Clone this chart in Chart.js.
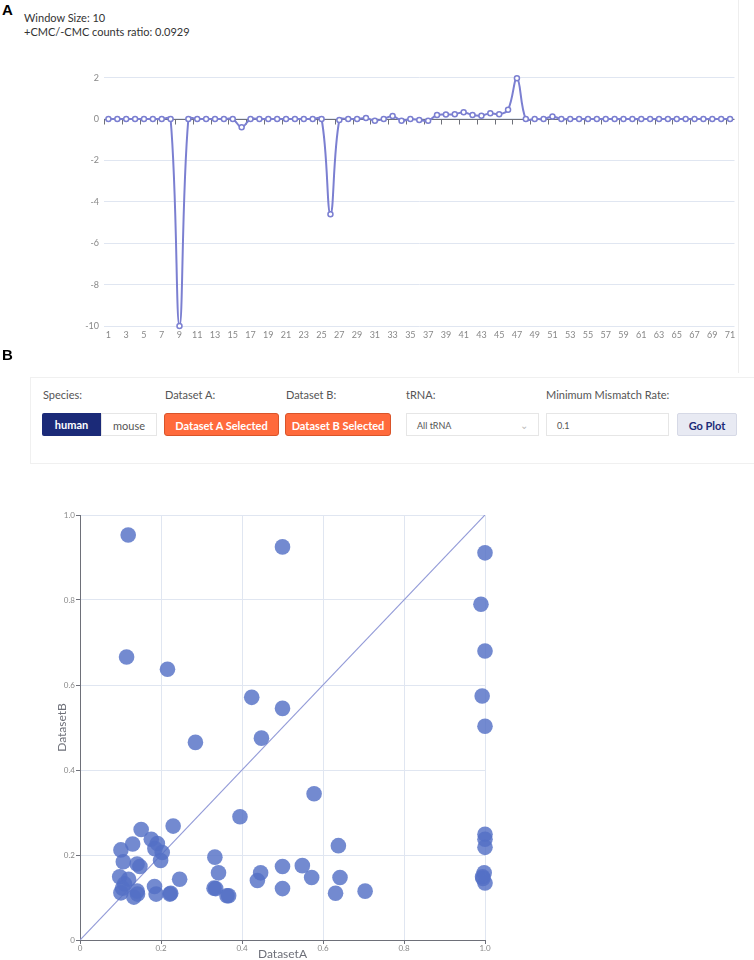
<!DOCTYPE html>
<html>
<head>
<meta charset="utf-8">
<script src="https://cdn.jsdelivr.net/npm/chart.js@4.4.1/dist/chart.umd.min.js"></script>
<style>
  body { margin: 0; width: 754px; height: 960px; background: #fff; font-family: Lato, "Open Sans", sans-serif; position: relative; overflow: hidden; }
  .abs { position: absolute; }
  .letter { font-family: "Liberation Sans", Arial, sans-serif; font-weight: bold; font-size: 15px; color: #000; }
  .info { left: 24px; font-size: 11px; color: #333; }
  .lbl { top: 388px; font-size: 11px; color: #555; }
  .btn { top: 413px; height: 23px; line-height: 23px; box-sizing: border-box; text-align: center; font-size: 11px; font-weight: bold; }
  .box { top: 413px; height: 23px; line-height: 23px; box-sizing: border-box; border: 1px solid #e6e6e6; font-size: 9px; color: #555; padding-left: 10px; background: #fff; }
</style>
</head>
<body>
<div class="abs letter" style="left:2px;top:1px;">A</div>
<div class="abs info" style="top:11px;">Window Size: 10</div>
<div class="abs info" style="top:25px;">+CMC/-CMC counts ratio: 0.0929</div>
<div class="abs" style="left:738px;top:0;height:373px;border-right:1px solid #eee;"></div>
<canvas id="lineChart" class="abs" style="left:0;top:60px;"></canvas>

<div class="abs letter" style="left:2px;top:346px;">B</div>
<div class="abs" style="left:30px;top:377px;width:730px;height:85px;border:1px solid #f0f0f0;"></div>
<div class="abs lbl" style="left:43px;">Species:</div>
<div class="abs lbl" style="left:165px;">Dataset A:</div>
<div class="abs lbl" style="left:286px;">Dataset B:</div>
<div class="abs lbl" style="left:406px;">tRNA:</div>
<div class="abs lbl" style="left:546px;">Minimum Mismatch Rate:</div>
<div class="abs btn" style="left:42px;width:59px;background:#1b2a78;color:#fff;border-radius:2px 0 0 2px;">human</div>
<div class="abs btn" style="left:101px;width:56px;background:#fff;color:#555;border:1px solid #e6e6e6;font-weight:normal;">mouse</div>
<div class="abs btn" style="left:164px;width:115px;background:#ff6a3c;color:#fff;border:1px solid #d9542a;border-radius:3px;">Dataset A Selected</div>
<div class="abs btn" style="left:285px;width:106px;background:#ff6a3c;color:#fff;border:1px solid #d9542a;border-radius:3px;">Dataset B Selected</div>
<div class="abs box" style="left:406px;width:133px;">All tRNA<span style="position:absolute;right:10px;color:#bbb;font-size:10px;">&#8964;</span></div>
<div class="abs box" style="left:546px;width:123px;">0.1</div>
<div class="abs btn" style="left:677px;width:60px;background:#e8eaf3;color:#1b2a78;border:1px solid #d6d9e6;border-radius:2px;">Go Plot</div>

<canvas id="scatterChart" class="abs" style="left:0;top:500px;"></canvas>

<script>
// line chart data (position 1..71)
const positions = [];
for (let i = 1; i <= 71; i++) positions.push(String(i));
const logRatio = [
  0, 0, 0, 0, 0, 0, 0, 0, -10, 0,
  0, 0, 0, 0, 0, -0.4, 0, 0, 0, 0,
  0, 0, 0, 0, 0, -4.6, -0.05, 0, 0, 0.05,
  -0.08, 0, 0.15, -0.08, 0, -0.05, -0.08, 0.19, 0.22, 0.23,
  0.33, 0.19, 0.16, 0.28, 0.23, 0.45, 1.97, 0, 0, 0,
  0.12, 0, 0, 0, 0, 0, 0, 0, 0, 0,
  0, 0, 0, 0, 0, 0, 0, 0, 0, 0,
  0
];
const yTicksLine = [-10, -8, -6, -4, -2, 0, 2];

// scatter data
const datasetA = [
  0.119, 0.500, 0.115, 0.216, 0.424, 0.500, 1.000, 0.990, 1.000, 0.993,
  1.000, 0.285, 0.448, 0.578, 0.395, 0.151, 0.230, 0.130, 0.101, 0.176,
  0.191, 0.185, 0.203, 0.199, 0.107, 0.141, 0.148, 0.098, 0.120, 0.110,
  0.105, 0.101, 0.133, 0.141, 0.142, 0.184, 0.188, 0.222, 0.246, 0.333,
  0.342, 0.331, 0.335, 0.363, 0.367, 0.438, 0.446, 0.500, 0.500, 0.549,
  0.572, 0.638, 0.642, 0.631, 0.704, 1.000, 1.000, 1.000, 0.998, 0.994,
  1.000, 0.995, 0.224
];
const datasetB = [
  0.953, 0.925, 0.666, 0.637, 0.571, 0.545, 0.911, 0.790, 0.680, 0.574,
  0.503, 0.465, 0.475, 0.344, 0.290, 0.260, 0.268, 0.226, 0.212, 0.237,
  0.227, 0.215, 0.206, 0.187, 0.184, 0.179, 0.173, 0.149, 0.143, 0.132,
  0.122, 0.111, 0.101, 0.115, 0.108, 0.126, 0.108, 0.108, 0.143, 0.195,
  0.158, 0.122, 0.121, 0.104, 0.104, 0.140, 0.158, 0.173, 0.121, 0.175,
  0.147, 0.222, 0.147, 0.110, 0.115, 0.249, 0.237, 0.218, 0.158, 0.149,
  0.134, 0.145, 0.110
];
const diagonal = [0, 1];

const axisGray = '#6E7079';
const gridColor = '#E0E6F1';
const lineColor = '#7b7fd1';

// draws the category axis line on y = 0 with ticks every two positions
const zeroAxis = {
  id: 'zeroAxis',
  beforeDatasetsDraw(chart) {
    const x = chart.scales.x, y = chart.scales.y;
    const ctx = chart.ctx;
    const y0 = Math.round(y.getPixelForValue(0)) + 0.5;
    const half = (x.getPixelForValue(1) - x.getPixelForValue(0)) / 2;
    ctx.save();
    ctx.strokeStyle = axisGray;
    ctx.lineWidth = 1;
    ctx.beginPath();
    ctx.moveTo(chart.chartArea.left, y0);
    ctx.lineTo(chart.chartArea.right, y0);
    for (let i = 0; i <= positions.length; i += 2) {
      const px = Math.round(x.getPixelForValue(i) - half) + 0.5;
      ctx.moveTo(px, y0);
      ctx.lineTo(px, y0 + 5);
    }
    ctx.stroke();
    ctx.restore();
  }
};

const lineCanvas = document.getElementById('lineChart');
lineCanvas.width = 740;
lineCanvas.height = 290;
new Chart(lineCanvas, {
  type: 'line',
  data: {
    labels: positions,
    datasets: [{
      data: logRatio,
      borderColor: lineColor,
      borderWidth: 2,
      tension: 0.4,
      clip: 5,
      pointRadius: 2.5,
      pointBorderWidth: 1.5,
      pointBackgroundColor: '#fff',
      pointBorderColor: lineColor
    }]
  },
  options: {
    responsive: false,
    animation: false,
    layout: { padding: { top: 17.6, right: 5.5, left: 0, bottom: 0 } },
    plugins: { legend: { display: false }, tooltip: { enabled: false } },
    scales: {
      x: {
        type: 'category',
        offset: true,
        grid: { display: false, drawTicks: false },
        border: { display: false },
        afterFit: (s) => { s.height = 24; },
        ticks: {
          autoSkip: false,
          maxRotation: 0,
          padding: 4,
          color: '#888',
          font: { size: 9, family: 'Lato' },
          callback: function(val, idx) { return idx % 2 === 0 ? this.getLabelForValue(val) : ''; }
        }
      },
      y: {
        min: -10,
        max: 2,
        afterBuildTicks: (s) => { s.ticks = yTicksLine.map(v => ({ value: v })); },
        afterFit: (s) => { s.width = 104; },
        grid: { color: gridColor, drawTicks: false },
        border: { display: false },
        ticks: { padding: 5, color: '#888', font: { size: 9, family: 'Lato' } }
      }
    }
  },
  plugins: [zeroAxis]
});

const points = datasetA.map((a, i) => ({ x: a, y: datasetB[i] }));

const scatterCanvas = document.getElementById('scatterChart');
scatterCanvas.width = 754;
scatterCanvas.height = 460;
new Chart(scatterCanvas, {
  type: 'scatter',
  data: {
    datasets: [{
      type: 'line',
      data: diagonal.map(v => ({ x: v, y: v })),
      borderColor: '#939bd8',
      borderWidth: 1.2,
      pointRadius: 0,
      order: 2
    }, {
      data: points,
      backgroundColor: 'rgba(84,112,198,0.82)',
      borderWidth: 0,
      pointRadius: 7.8,
      clip: 10,
      order: 1
    }]
  },
  options: {
    responsive: false,
    animation: false,
    layout: { padding: { top: 15, right: 269, left: 55, bottom: 0 } },
    plugins: { legend: { display: false }, tooltip: { enabled: false } },
    scales: {
      x: {
        type: 'linear',
        min: 0,
        max: 1,
        afterFit: (s) => { s.height = 20; },
        grid: { color: gridColor, tickColor: axisGray, tickLength: 4 },
        border: { color: axisGray },
        ticks: { stepSize: 0.2, padding: 0, color: '#888', font: { size: 8, family: 'Lato' } },
        title: { display: true, text: 'DatasetA', color: axisGray, padding: 0, font: { size: 12, family: 'Lato', lineHeight: 1 } }
      },
      y: {
        type: 'linear',
        min: 0,
        max: 1,
        afterFit: (s) => { s.width = 25; },
        grid: { color: gridColor, tickColor: axisGray, tickLength: 4 },
        border: { color: axisGray },
        ticks: { stepSize: 0.2, padding: 1, color: '#888', font: { size: 8, family: 'Lato' } },
        title: { display: true, text: 'DatasetB', color: axisGray, padding: 0, font: { size: 12, family: 'Lato', lineHeight: 1.2 } }
      }
    }
  }
});
</script>
</body>
</html>
